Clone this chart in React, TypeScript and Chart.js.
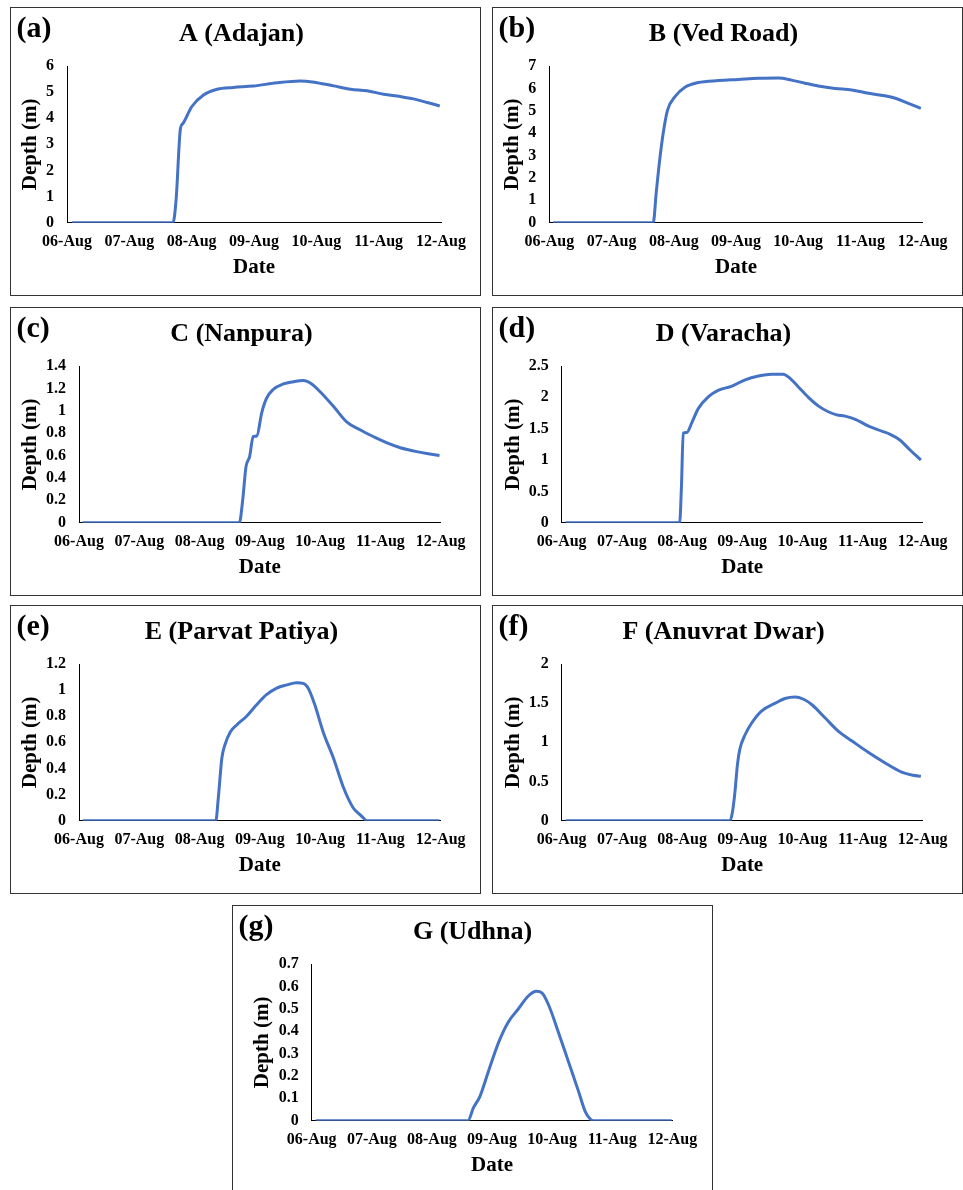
import React, { useEffect, useRef } from "react";
import { Chart, registerables } from "chart.js";

Chart.register(...registerables);

const FONT = "'Liberation Serif', 'Times New Roman', Times, serif";

// x tick labels (day index 0..6)
const dateLabels = ["06-Aug", "07-Aug", "08-Aug", "09-Aug", "10-Aug", "11-Aug", "12-Aug"];

// A (Adajan)
const adajanDays = [0.08, 1.70, 1.75, 1.82, 1.86, 2.0, 2.19, 2.41, 2.67, 2.99, 3.37, 3.74, 4.01, 4.28, 4.55, 4.81, 5.08, 5.35, 5.56, 5.78, 5.98];
const adajanDepth = [0, 0, 0.87, 3.61, 3.80, 4.44, 4.89, 5.11, 5.18, 5.23, 5.36, 5.43, 5.36, 5.24, 5.11, 5.05, 4.92, 4.83, 4.74, 4.60, 4.47];

// B (Ved Road)
const vedDays = [0.06, 1.67, 1.72, 1.78, 1.83, 1.90, 2.02, 2.18, 2.39, 2.72, 3.04, 3.36, 3.68, 3.89, 4.11, 4.32, 4.59, 4.86, 5.13, 5.39, 5.56, 5.77, 5.97];
const vedDepth = [0, 0, 1.4, 2.95, 4.0, 5.03, 5.63, 6.05, 6.26, 6.35, 6.40, 6.45, 6.46, 6.37, 6.23, 6.11, 6.0, 5.93, 5.78, 5.67, 5.56, 5.33, 5.11];

// C (Nanpura)
const nanpuraDays = [0.06, 2.66, 2.715, 2.77, 2.83, 2.89, 2.95, 3.03, 3.11, 3.22, 3.39, 3.56, 3.72, 3.86, 4.0, 4.22, 4.44, 4.66, 4.88, 5.10, 5.33, 5.60, 5.82, 5.98];
const nanpuraDepth = [0, 0, 0.20, 0.50, 0.59, 0.77, 0.775, 0.98, 1.11, 1.19, 1.24, 1.26, 1.27, 1.24, 1.17, 1.04, 0.90, 0.83, 0.77, 0.715, 0.67, 0.635, 0.614, 0.60];

// D (Varacha)
const varachaDays = [0.066, 1.96, 1.99, 2.02, 2.08, 2.16, 2.27, 2.44, 2.60, 2.83, 3.05, 3.27, 3.49, 3.68, 3.80, 3.93, 4.10, 4.27, 4.43, 4.57, 4.71, 4.88, 5.10, 5.32, 5.46, 5.62, 5.79, 5.97];
const varachaDepth = [0, 0, 0.57, 1.43, 1.44, 1.59, 1.82, 2.01, 2.11, 2.18, 2.28, 2.34, 2.37, 2.37, 2.30, 2.17, 2.0, 1.86, 1.77, 1.72, 1.70, 1.65, 1.54, 1.46, 1.41, 1.32, 1.16, 1.0];

// E (Parvat Patiya)
const parvatDays = [0.06, 2.27, 2.31, 2.37, 2.42, 2.51, 2.62, 2.78, 2.95, 3.11, 3.28, 3.45, 3.61, 3.72, 3.80, 3.91, 4.05, 4.22, 4.39, 4.55, 4.66, 4.72, 4.77, 5.98];
const parvatDepth = [0, 0, 0.17, 0.48, 0.58, 0.68, 0.735, 0.80, 0.89, 0.965, 1.016, 1.04, 1.057, 1.052, 1.016, 0.89, 0.68, 0.48, 0.25, 0.097, 0.046, 0.02, 0, 0];

// F (Anuvrat Dwar)
const anuvratDays = [0.066, 2.80, 2.84, 2.88, 2.92, 2.96, 3.05, 3.16, 3.32, 3.55, 3.71, 3.88, 4.02, 4.16, 4.38, 4.60, 4.82, 5.10, 5.37, 5.65, 5.84, 5.97];
const anuvratDepth = [0, 0, 0.12, 0.37, 0.71, 0.91, 1.10, 1.25, 1.40, 1.50, 1.56, 1.58, 1.55, 1.48, 1.31, 1.14, 1.02, 0.87, 0.74, 0.62, 0.58, 0.566];

// G (Udhna)
const udhnaDays = [0.067, 2.60, 2.69, 2.80, 2.94, 3.11, 3.27, 3.44, 3.60, 3.74, 3.83, 3.94, 4.10, 4.27, 4.44, 4.55, 4.63, 4.69, 5.99];
const udhnaDepth = [0, 0, 0.057, 0.109, 0.22, 0.35, 0.44, 0.50, 0.556, 0.578, 0.571, 0.518, 0.399, 0.265, 0.131, 0.042, 0.009, 0, 0];

type PanelCfg = {
  label: string;
  title: string;
  days: number[];
  depth: number[];
  yMax: number;
  yStep: number;
  left: number;
  top: number;
  width: number;
  height: number;
  plotLeft: number;
  plotRight: number;
  yTitlePad: number;
  titleShift: number;
};

const PLOT_TOP = 59; // relative to box
const PLOT_BOTTOM = 215.7;

const panels: PanelCfg[] = [
  { label: "(a)", title: "A (Adajan)", days: adajanDays, depth: adajanDepth, yMax: 6, yStep: 1, left: 10, top: 7, width: 471, height: 289, plotLeft: 57, plotRight: 431, yTitlePad: 6.5, titleShift: 8 },
  { label: "(b)", title: "B (Ved Road)", days: vedDays, depth: vedDepth, yMax: 7, yStep: 1, left: 492, top: 7, width: 471, height: 289, plotLeft: 57.3, plotRight: 430.7, yTitlePad: 7, titleShift: 8 },
  { label: "(c)", title: "C (Nanpura)", days: nanpuraDays, depth: nanpuraDepth, yMax: 1.4, yStep: 0.2, left: 10, top: 307, width: 471, height: 289, plotLeft: 69, plotRight: 430.7, yTitlePad: 7, titleShift: 8 },
  { label: "(d)", title: "D (Varacha)", days: varachaDays, depth: varachaDepth, yMax: 2.5, yStep: 0.5, left: 492, top: 307, width: 471, height: 289, plotLeft: 69.7, plotRight: 430.7, yTitlePad: 7.5, titleShift: 8 },
  { label: "(e)", title: "E (Parvat Patiya)", days: parvatDays, depth: parvatDepth, yMax: 1.2, yStep: 0.2, left: 10, top: 605, width: 471, height: 289, plotLeft: 69, plotRight: 430.7, yTitlePad: 7, titleShift: 8 },
  { label: "(f)", title: "F (Anuvrat Dwar)", days: anuvratDays, depth: anuvratDepth, yMax: 2, yStep: 0.5, left: 492, top: 605, width: 471, height: 289, plotLeft: 69.7, plotRight: 430.7, yTitlePad: 7.5, titleShift: 8 },
  { label: "(g)", title: "G (Udhna)", days: udhnaDays, depth: udhnaDepth, yMax: 0.7, yStep: 0.1, left: 232, top: 905, width: 481, height: 289, plotLeft: 79.7, plotRight: 440.3, yTitlePad: 16.5, titleShift: 0 },
];

const panelLabelPlugin = {
  id: "panelLabel",
  afterDraw(chart: any, _args: any, opts: any) {
    const ctx = chart.ctx;
    ctx.save();
    ctx.font = `bold 30px ${FONT}`;
    ctx.fillStyle = "#000";
    ctx.textAlign = "left";
    ctx.textBaseline = "middle";
    ctx.fillText(opts.text, 5.5, 21.5);
    ctx.restore();
  },
};

function Panel({ cfg }: { cfg: PanelCfg }) {
  const ref = useRef<HTMLCanvasElement>(null);
  const cw = cfg.width - 2;
  const ch = cfg.height - 2;

  useEffect(() => {
    if (!ref.current) return;
    const chartTop = PLOT_TOP - 1;
    const chartBottom = PLOT_BOTTOM - 1;
    const titleFont = 26;
    const padTop = 11;
    const chart = new Chart(ref.current, {
      type: "line",
      data: {
        datasets: [
          {
            data: cfg.days.map((d, i) => ({ x: d, y: cfg.depth[i] })),
            borderColor: "#4472C4",
            borderWidth: 3,
            pointRadius: 0,
            cubicInterpolationMode: "monotone",
            fill: false,
          },
        ],
      },
      options: {
        responsive: false,
        animation: false,
        devicePixelRatio: 1,
        layout: { padding: { top: padTop, left: 0, right: cfg.titleShift, bottom: 0 } },
        plugins: {
          legend: { display: false },
          tooltip: { enabled: false },
          title: {
            display: true,
            text: cfg.title,
            color: "#000",
            font: { family: FONT, size: titleFont, weight: "bold", lineHeight: 1.2 },
            padding: { top: 0, bottom: chartTop - padTop - titleFont * 1.2 },
          },
          panelLabel: { text: cfg.label },
        } as any,
        scales: {
          x: {
            type: "linear",
            min: 0,
            max: 6,
            grid: { display: false, drawTicks: false },
            border: { display: true, color: "#000", width: 1 },
            ticks: {
              stepSize: 1,
              padding: 10,
              color: "#000",
              autoSkip: false,
              maxRotation: 0,
              font: { family: FONT, size: 16, weight: "bold" },
              callback: (v: any) => dateLabels[Math.round(Number(v))] ?? "",
            },
            title: {
              display: true,
              text: "Date",
              color: "#000",
              font: { family: FONT, size: 21, weight: "bold" },
              padding: { top: 0, bottom: 14.5 },
            },
            afterFit: (s: any) => {
              s.height = ch - chartBottom;
              s.paddingRight = cw - (cfg.plotRight - 1);
            },
          },
          y: {
            type: "linear",
            min: 0,
            max: cfg.yMax,
            grid: { display: false, drawTicks: false },
            border: { display: true, color: "#000", width: 1 },
            ticks: {
              stepSize: cfg.yStep,
              padding: 13,
              color: "#000",
              autoSkip: false,
              font: { family: FONT, size: 16, weight: "bold" },
              callback: (v: any) => String(parseFloat(Number(v).toFixed(2))),
            },
            title: {
              display: true,
              text: "Depth (m)",
              color: "#000",
              font: { family: FONT, size: 21, weight: "bold" },
              padding: { top: cfg.yTitlePad, bottom: 0 },
            },
            afterFit: (s: any) => {
              s.width = cfg.plotLeft - 1;
            },
          },
        } as any,
      },
      plugins: [panelLabelPlugin as any],
    });
    return () => chart.destroy();
  }, [cfg]);

  return (
    <div
      style={{
        position: "absolute",
        left: cfg.left,
        top: cfg.top,
        width: cfg.width,
        height: cfg.height,
        border: "1px solid #333",
        boxSizing: "border-box",
        background: "#fff",
      }}
    >
      <canvas ref={ref} width={cw} height={ch} style={{ display: "block" }} />
    </div>
  );
}

export default function App() {
  return (
    <div
      style={{
        position: "fixed",
        left: 0,
        top: 0,
        width: 963,
        height: 1190,
        overflow: "hidden",
        background: "#fff",
      }}
    >
      {panels.map((p) => (
        <Panel key={p.label} cfg={p} />
      ))}
    </div>
  );
}
